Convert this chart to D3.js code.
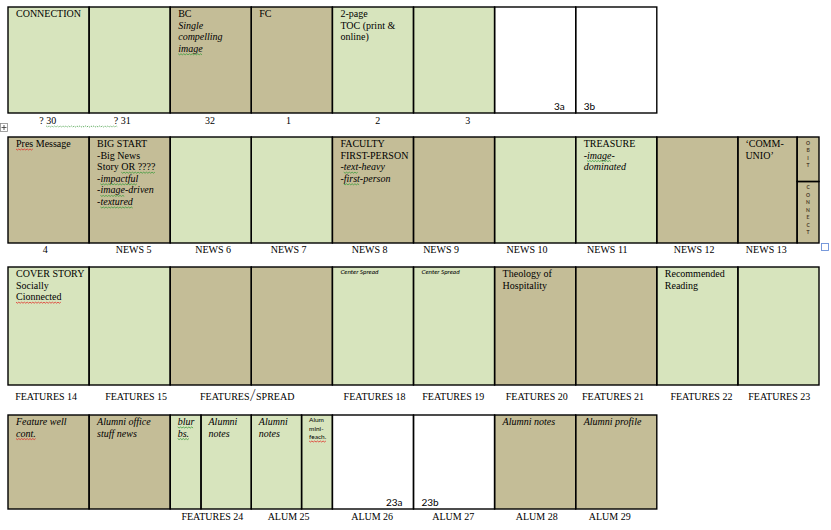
<!DOCTYPE html>
<html>
<head>
<meta charset="utf-8">
<script src="https://cdn.jsdelivr.net/npm/d3@7"></script>
<style>
body { margin: 0; background: #fff; }
svg { display: block; }
</style>
</head>
<body>
<svg id="plan" width="831" height="530"></svg>
<script>
var FILLS = { g: "#d7e4bd", t: "#c4bd97", w: "#ffffff" };
var SERIF = "'Liberation Serif', 'DejaVu Serif', serif";
var SANS = "Lato, 'Liberation Sans', sans-serif";

// Markup in the notes: "*" italic line, "^" small sans line,
// {r|..} red squiggle, {g|..} green squiggle, {G|..} joined dotted green, {s|..} big glyph

// row 1 - covers & contents
var coverFills = ["g", "g", "t", "t", "g", "g", "w", "w"];
var coverNotes = [["CONNECTION"], [], ["BC", "*Single", "*compelling", "*{g|image}"], ["FC"],
  ["2-page", "TOC (print &", "online)"], [], [], []];
var coverCorners = ["", "", "", "", "", "", "3a", "3b"];
var coverCornerSide = ["", "", "", "", "", "", "end", "start"];
var coverPages = ["? {G|30}", "{G|?} 31", "32", "1", "2", "3"];
var coverPageAt = [0.49, 1.41, 2.49, 3.46, 4.56, 5.67];

// row 2 - news
var newsFills = ["t", "t", "g", "g", "t", "t", "g", "g", "t", "t"];
var newsEdges = [0, 1, 2, 3, 4, 5, 6, 7, 8, 9, 9.73];
var newsNotes = [["{r|Pres} Message"],
  ["BIG START", "-Big News", "Story {g|OR ????}", "*-{g|impactful}", "*-{g|image}-driven", "*-{g|textured}"],
  [], [], ["FACULTY", "FIRST-PERSON", "*-{g|text}-heavy", "*-{g|first}-person"], [], [],
  ["TREASURE", "*-{g|image}-", "*dominated"], [], ["\u2018COMM-", "UNIO\u2019"]];
var newsPages = ["4", "NEWS 5", "NEWS 6", "NEWS 7", "NEWS 8", "NEWS 9", "NEWS 10", "NEWS 11", "NEWS 12", "NEWS 13"];
var newsPageAt = [0.46, 1.55, 2.53, 3.46, 4.46, 5.34, 6.40, 7.39, 8.46, 9.35];
var sideWords = ["OBIT", "CONNECT"];
var sideSplit = 0.42;

// row 3 - features
var featureFills = ["g", "g", "t", "t", "g", "g", "t", "t", "g", "g"];
var featureNotes = [["COVER STORY", "Socially", "{r|Cionnected}"], [], [], [],
  ["^*Center Spread"], ["^*Center Spread"], ["Theology of", "Hospitality"], [],
  ["Recommended", "Reading"], []];
var featurePages = ["FEATURES 14", "FEATURES 15", "FEATURES{s|/}SPREAD", "FEATURES 18", "FEATURES 19",
  "FEATURES 20", "FEATURES 21", "FEATURES 22", "FEATURES 23"];
var featurePageAt = [0.47, 1.58, 2.95, 4.52, 5.49, 6.52, 7.46, 8.55, 9.51];

// row 4 - alumni
var alumFills = ["t", "t", "g", "g", "g", "g", "w", "w", "t", "t"];
var alumEdges = [0, 1, 2, 2.38, 3, 3.62, 4, 5, 6, 7, 8];
var alumNotes = [["*Feature well", "*{r|cont.}"], ["*Alumni office", "*stuff news"],
  ["*{g|blur}", "*{g|bs.}"], ["*Alumni", "*notes"], ["*Alumni", "*notes"],
  ["^Alum", "^mini-", "^{r|feach.}"], [], [], ["*Alumni notes"], ["*Alumni profile"]];
var alumCorners = ["", "", "", "", "", "", "23a", "23b", "", ""];
var alumCornerSide = ["", "", "", "", "", "", "end", "start", "", ""];
var alumPages = ["FEATURES 24", "ALUM 25", "ALUM 26", "ALUM 27", "ALUM 28", "ALUM 29"];
var alumPageAt = [2.52, 3.46, 4.49, 5.49, 6.52, 7.42];

var svg = d3.select("#plan");
var x = d3.scaleLinear().domain([0, 10]).range([8, 819]);

var rows = [
  { top: 7, bottom: 113, label: 124, fills: coverFills, edges: d3.range(coverFills.length + 1),
    notes: coverNotes, corners: coverCorners, sides: coverCornerSide, pages: coverPages, at: coverPageAt },
  { top: 137, bottom: 243, label: 253, fills: newsFills, edges: newsEdges,
    notes: newsNotes, corners: [], sides: [], pages: newsPages, at: newsPageAt },
  { top: 267, bottom: 385, label: 400, fills: featureFills, edges: d3.range(featureFills.length + 1),
    notes: featureNotes, corners: [], sides: [], pages: featurePages, at: featurePageAt },
  { top: 415, bottom: 509, label: 520, fills: alumFills, edges: alumEdges,
    notes: alumNotes, corners: alumCorners, sides: alumCornerSide, pages: alumPages, at: alumPageAt }
];

function parseLine(line) {
  var small = false, italic = false;
  if (line[0] === "^") { small = true; line = line.slice(1); }
  if (line[0] === "*") { italic = true; line = line.slice(1); }
  var parts = line.split(/(\{[rgGs]\|[^}]*\})/).filter(function(s) { return s.length; });
  return {
    small: small, italic: italic,
    parts: parts.map(function(p) {
      var m = p.match(/^\{([rgGs])\|([^}]*)\}$/);
      return m ? { mark: m[1], text: m[2] } : { mark: null, text: p };
    })
  };
}

function writeLine(g, line, px, py, anchor) {
  var p = parseLine(line);
  var t = g.append("text")
    .attr("x", px).attr("y", py)
    .attr("fill", "#000")
    .attr("font-family", p.small ? SANS : SERIF)
    .attr("font-size", p.small ? 6.5 : 10)
    .attr("font-style", p.italic ? "italic" : null)
    .attr("text-anchor", anchor || "start");
  p.parts.forEach(function(part) {
    var s = t.append("tspan").text(part.text);
    if (part.mark === "s") s.attr("font-size", 15).attr("font-family", SANS).attr("font-weight", 300);
    else if (part.mark) s.classed("mark", true).attr("data-mark", part.mark).attr("data-y", py);
  });
  return p;
}

var cells = svg.append("g");
var borders = svg.append("g");
var words = svg.append("g");

function box(x0, y0, x1, y1, fill) {
  cells.append("rect")
    .attr("x", x0).attr("y", y0)
    .attr("width", x1 - x0).attr("height", y1 - y0)
    .attr("fill", FILLS[fill]);
  borders.append("rect")
    .attr("x", x0).attr("y", y0)
    .attr("width", x1 - x0).attr("height", y1 - y0)
    .attr("fill", "none").attr("stroke", "#000").attr("stroke-width", 1.4);
}

rows.forEach(function(row) {
  row.fills.forEach(function(f, i) {
    var x0 = x(row.edges[i]), x1 = x(row.edges[i + 1]);
    box(x0, row.top, x1, row.bottom, f);

    var notes = row.notes[i] || [];
    notes.forEach(function(line, k) {
      var small = line[0] === "^";
      var pad = (x1 - x0) < 60 ? 7.5 : 8;
      var baseline = small ? row.top + 7 + k * 8.5 : row.top + 10 + k * 11.6;
      writeLine(words, line, x0 + pad, baseline);
    });

    var c = row.corners[i];
    if (c) {
      words.append("text")
        .attr("x", row.sides[i] === "end" ? x1 - 11 : x0 + 8)
        .attr("y", row.bottom - 3)
        .attr("text-anchor", row.sides[i])
        .attr("font-family", SANS).attr("font-size", 10)
        .attr("fill", "#000")
        .text(c);
    }
  });

  row.pages.forEach(function(lab, i) {
    writeLine(words, lab, x(row.at[i]), row.label, "middle");
  });
});

// OBIT / CONNECT side column in the news row
var news = rows[1];
var sx0 = x(newsEdges[newsEdges.length - 1]), sx1 = x(10);
var splitY = news.top + (news.bottom - news.top) * sideSplit;
[[news.top, splitY], [splitY, news.bottom]].forEach(function(span, j) {
  box(sx0, span[0], sx1, span[1], "t");
  sideWords[j].split("").forEach(function(ch, k) {
    words.append("text")
      .attr("x", (sx0 + sx1) / 2).attr("y", span[0] + 7.5 + k * 7.5)
      .attr("text-anchor", "middle")
      .attr("font-family", SANS).attr("font-size", 5)
      .attr("font-weight", 700)
      .attr("fill", "#4a3a28")
      .text(ch);
  });
});

// spelling / grammar squiggles under marked words
var line = d3.line();
function squiggle(x0, x1, y, color, dashed) {
  var pts = [];
  for (var px = x0, k = 0; px <= x1; px += 1.4, k++) pts.push([px, y + (k % 2 ? 1 : 0)]);
  svg.append("path")
    .attr("d", line(pts))
    .attr("fill", "none")
    .attr("stroke", color)
    .attr("stroke-width", 0.8)
    .attr("stroke-dasharray", dashed ? "1.5,1" : null);
}
var joined = [];
svg.selectAll("tspan.mark").each(function() {
  var n = this.getNumberOfChars();
  if (!n) return;
  var a = this.getStartPositionOfChar(0).x;
  var b = this.getEndPositionOfChar(n - 1).x;
  var mark = this.getAttribute("data-mark");
  var y = +this.getAttribute("data-y") + 2;
  if (mark === "G") { joined.push([a, b, y]); return; }
  squiggle(a, b, y, mark === "r" ? "#e0302a" : "#3d9a3d", false);
});
if (joined.length) {
  squiggle(d3.min(joined, function(d) { return d[0]; }), d3.max(joined, function(d) { return d[1]; }),
    joined[0][2], "#3d9a3d", true);
}

// Word's table handles
var handle = svg.append("g").attr("transform", "translate(0.5,123.5)");
handle.append("rect").attr("width", 7).attr("height", 8).attr("fill", "#fff").attr("stroke", "#8a8a8a").attr("stroke-width", 0.8);
handle.append("path").attr("d", "M3.5,1.5V6.5M1,4H6").attr("stroke", "#333").attr("stroke-width", 0.8);
svg.append("rect").attr("x", 821.5).attr("y", 243.5).attr("width", 7).attr("height", 7)
  .attr("fill", "#fff").attr("stroke", "#6a8fd8").attr("stroke-width", 0.9);
</script>
</body>
</html>
